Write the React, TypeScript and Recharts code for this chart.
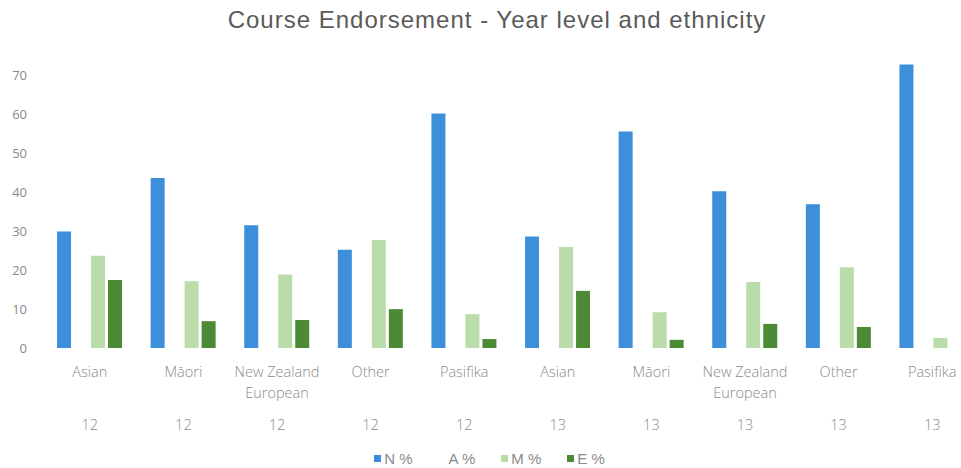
import { BarChart, Bar, XAxis, YAxis, Legend } from 'recharts';

const ethnicities = ['Asian', 'Māori', 'New Zealand European', 'Other', 'Pasifika', 'Asian', 'Māori', 'New Zealand European', 'Other', 'Pasifika'];
const years = ['12', '12', '12', '12', '12', '13', '13', '13', '13', '13'];
const nPct = [30, 43.7, 31.6, 25.3, 60.3, 28.7, 55.7, 40.3, 37, 72.9];
const aPct = [null, null, null, null, null, null, null, null, null, null];
const mPct = [23.7, 17.2, 18.9, 27.8, 8.7, 26, 9.2, 17, 20.8, 2.6];
const ePct = [17.5, 6.9, 7.2, 10, 2.3, 14.7, 2.1, 6.2, 5.4, 0];
const yTicks = [0, 10, 20, 30, 40, 50, 60, 70];

const series = [
  { key: 'n', name: 'N %', color: '#3d8fdb' },
  { key: 'a', name: 'A %', color: '#ffffff' },
  { key: 'm', name: 'M %', color: '#b9dcaa' },
  { key: 'e', name: 'E %', color: '#4c8a35' },
];

const data = ethnicities.map((eth, i) => ({
  key: `${eth}-${years[i]}`,
  n: nPct[i],
  a: aPct[i],
  m: mPct[i],
  e: ePct[i],
}));

const FONT = '"Open Sans", "Liberation Sans", sans-serif';
const TICK_COLOR = '#8a8a8a';

const wrap = (label: string, max = 12) => {
  if (label.length <= max) return [label];
  const cut = label.lastIndexOf(' ', max);
  return [label.slice(0, cut), label.slice(cut + 1)];
};

const CategoryTick = (props: any) => {
  const { x, y, payload } = props;
  const i = payload.index;
  const lines = wrap(ethnicities[i]);
  return (
    <g transform={`translate(${x},${y})`}>
      {lines.map((ln, k) => (
        <text key={k} x={0} y={27 + k * 21} textAnchor="middle" fill={TICK_COLOR} fontSize={14.5} fontFamily={FONT} fontWeight={300}>
          {ln}
        </text>
      ))}
      <text x={0} y={80} textAnchor="middle" fill={TICK_COLOR} fontSize={14.5} fontFamily={FONT} fontWeight={300}>
        {years[i]}
      </text>
    </g>
  );
};

const LegendContent = () => (
  <div style={{ display: 'flex', justifyContent: 'center', gap: 26, marginTop: 6, fontFamily: '"Liberation Sans", sans-serif', fontSize: 15, color: TICK_COLOR }}>
    {series.map((s) => (
      <span key={s.key} style={{ display: 'inline-flex', alignItems: 'center' }}>
        <span style={{ display: 'inline-block', width: 7, height: 7, background: s.color, marginRight: 3 }} />
        {s.name}
      </span>
    ))}
  </div>
);

const App = () => (
  <div style={{ position: 'absolute', left: 0, top: 0, width: 961, height: 468, overflow: 'hidden', background: '#fff' }}>
    <div
      style={{
        position: 'absolute',
        left: 0,
        top: 6,
        width: 994,
        textAlign: 'center',
        fontFamily: '"Liberation Sans", sans-serif',
        fontSize: 24,
        letterSpacing: 1,
        color: '#5a5a5a',
      }}
    >
      Course Endorsement - Year level and ethnicity
    </div>
    <BarChart
      width={994}
      height={468}
      data={data}
      margin={{ top: 37, right: 15, left: 0, bottom: 0 }}
      barCategoryGap="15%"
      barGap={3}
    >
      <XAxis dataKey="key" axisLine={false} tickLine={false} tickSize={0} height={96} interval={0} tick={<CategoryTick />} />
      <YAxis
        width={43}
        domain={[0, 80]}
        ticks={yTicks}
        axisLine={false}
        tickLine={false}
        tickSize={0}
        tickMargin={16}
        tick={{ fill: TICK_COLOR, fontSize: 13, fontFamily: FONT }}
      />
      <Legend verticalAlign="bottom" height={24} content={<LegendContent />} />
      {series.map((s) => (
        <Bar key={s.key} dataKey={s.key} name={s.name} fill={s.color} isAnimationActive={false} />
      ))}
    </BarChart>
  </div>
);

export default App;
